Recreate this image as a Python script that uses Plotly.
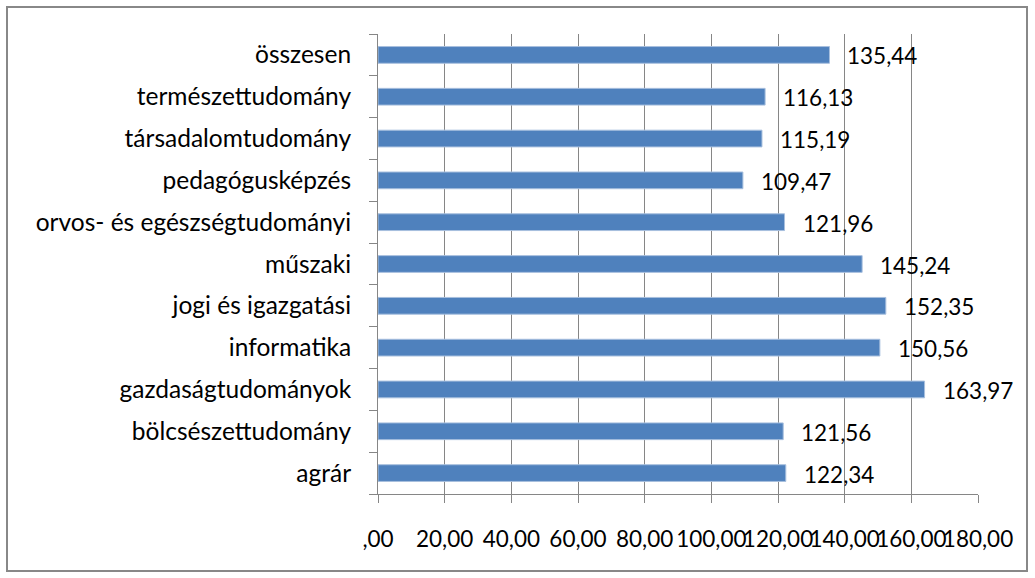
import plotly.graph_objects as go

categories = ["agrár", "bölcsészettudomány", "gazdaságtudományok", "informatika",
              "jogi és igazgatási", "műszaki", "orvos- és egészségtudományi",
              "pedagógusképzés", "társadalomtudomány", "természettudomány", "összesen"]
values = [122.34, 121.56, 163.97, 150.56, 152.35, 145.24, 121.96, 109.47, 115.19, 116.13, 135.44]
tick_vals = [0, 20, 40, 60, 80, 100, 120, 140, 160, 180]
tick_text = [",00", "20,00", "40,00", "60,00", "80,00", "100,00", "120,00", "140,00", "160,00", "180,00"]

FONT = "Lato"
GRID = "#868686"
NUM_SIZE = 22.5
CAT_SIZE = 24.5

fig = go.Figure()
fig.add_trace(go.Bar(
    x=values, y=categories, orientation="h",
    marker=dict(color="#4F81BD", line=dict(color="#A7BFDE", width=1)),
    hoverinfo="skip",
))

for c, v in zip(categories, values):
    fig.add_annotation(x=v, y=c, text=f"{v:.2f}".replace(".", ","), showarrow=False,
                       xanchor="left", yanchor="middle", xshift=16, yshift=-1,
                       font=dict(family=FONT, size=NUM_SIZE, color="black"))

L, R, T, B = 378, 57, 34, 84
W, H = 1035 - L - R, 578 - T - B
fig.add_shape(type="rect", xref="paper", yref="paper",
              x0=(7 - L) / W, x1=(1027 - L) / W,
              y0=(578 - B - 571) / H, y1=(578 - B - 7) / H,
              line=dict(color="#888888", width=2), fillcolor="rgba(0,0,0,0)", layer="below")

fig.update_layout(
    width=1035, height=578,
    margin=dict(l=L, r=R, t=T, b=B, pad=0, autoexpand=False),
    paper_bgcolor="white", plot_bgcolor="white",
    bargap=0.6, showlegend=False,
    font=dict(family=FONT, size=NUM_SIZE, color="black"),
    xaxis=dict(range=[0, 180], tickvals=tick_vals, ticktext=tick_text, tickangle=0,
               automargin=False,
               showgrid=True, gridcolor=GRID, gridwidth=1,
               showline=True, linecolor=GRID, linewidth=1,
               ticks="outside", ticklen=8, tickcolor=GRID,
               ticklabelstandoff=17, zeroline=False,
               tickfont=dict(family=FONT, size=NUM_SIZE, color="black")),
    yaxis=dict(type="category", categoryorder="array", categoryarray=categories,
               automargin=False,
               showline=True, linecolor=GRID, linewidth=1,
               ticks="outside", ticklen=8, tickcolor=GRID, tickson="boundaries",
               ticklabelstandoff=21, showgrid=False,
               tickfont=dict(family=FONT, size=CAT_SIZE, color="black")),
)

fig.write_html("out.html", config={"displayModeBar": False},
               post_script="document.body.style.margin='0';document.body.style.padding='0';")
